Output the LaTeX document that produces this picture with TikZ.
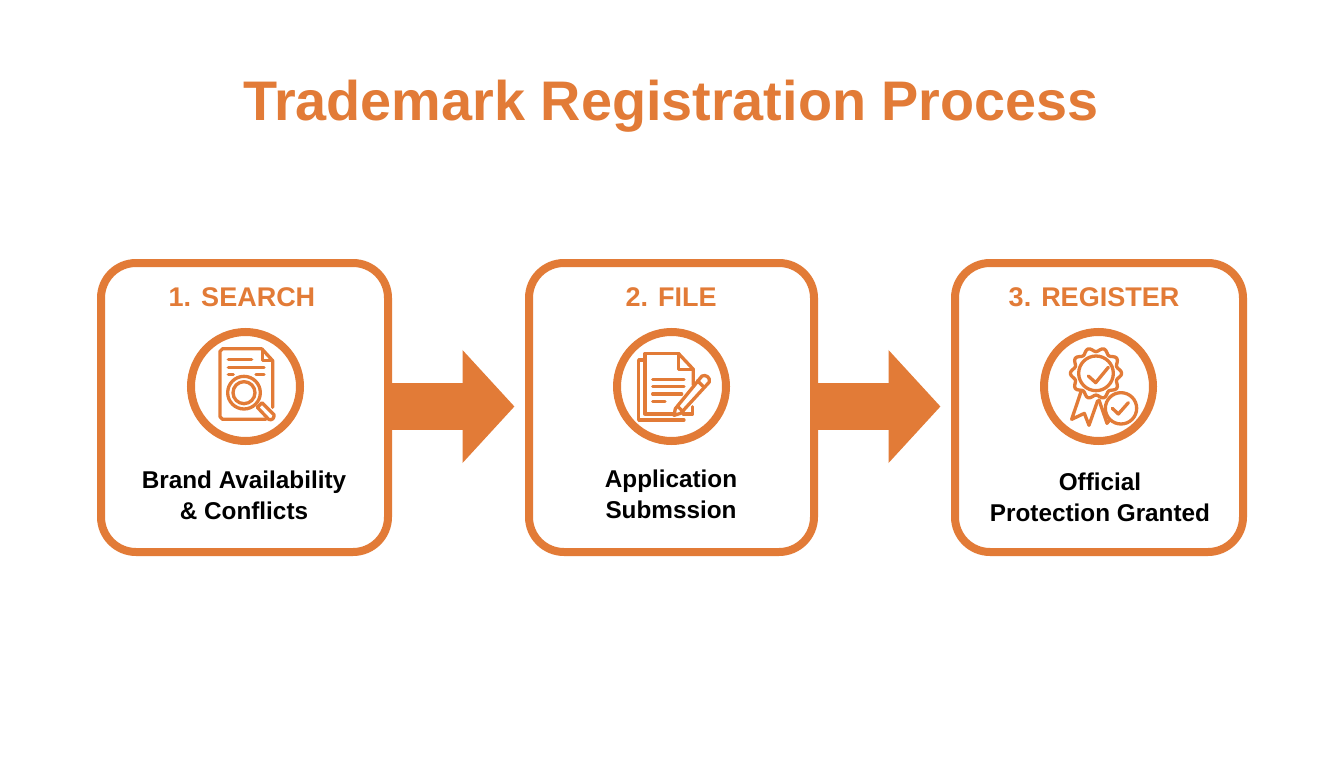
\documentclass[tikz,border=0pt]{standalone}
\usepackage{fontspec}
\setmainfont{Liberation Sans}
\usetikzlibrary{arrows.meta}
\definecolor{brandor}{HTML}{E27B37}
\tikzset{
  stepbox/.style={draw=brandor,line width=8pt,rounded corners=35pt,fill=white,minimum height=289pt,inner sep=0pt},
  iconring/.style={draw=brandor,line width=8pt,circle,minimum size=109pt,inner sep=0pt,fill=white},
  heading/.style={text=brandor,font=\bfseries\fontsize{27}{32}\selectfont,inner sep=0pt},
  caption/.style={text=black,font=\bfseries\fontsize{24.3}{31}\selectfont,align=center,inner sep=0pt},
  bigarrow/.style={draw=brandor,line width=47pt,-{Triangle[length=52pt,width=110pt]}},
  iconline/.style={draw=brandor,line width=3.3pt,line join=round,line cap=round},
  zoomed/.style={x=0.33333pt,y=-0.33333pt},
}
\begin{document}
\begin{tikzpicture}[x=1pt,y=-1pt]
\useasboundingbox (0,0) rectangle (1344,768);
\fill[white] (0,0) rectangle (1344,768);
\node[text=brandor,font=\bfseries\fontsize{55.8}{60}\selectfont,inner sep=0pt] (title) at (671,106.5) {Trademark Registration Process};

\node[stepbox,minimum width=287pt] (box1) at (244.5,407.5) {};
\node[stepbox,minimum width=285pt] (box2) at (671.5,407.5) {};
\node[stepbox,minimum width=288pt] (box3) at (1099,407.5) {};

\coordinate (tip1) at (514.5,406.5);
\coordinate (tip2) at (940.5,406.5);
\draw[bigarrow] (box1.east |- tip1) -- (tip1);
\draw[bigarrow] (box2.east |- tip2) -- (tip2);

\node[heading] (h1) at (242,297.5) {1. SEARCH};
\node[heading] (h2) at (671,297.5) {2. FILE};
\node[heading] (h3) at (1094,297.5) {3. REGISTER};

\node[iconring] (ring1) at (245.5,386.5) {};
\node[iconring] (ring2) at (671.5,386.5) {};
\node[iconring] (ring3) at (1098.5,386.5) {};

\node[caption] (c1) at (244,495) {Brand Availability\\\& Conflicts};
\node[caption] (c2) at (671,494.5) {Application\\Submssion};
\node[caption] (c3) at (1100,497) {Official\\Protection Granted};

% search icon
\begin{scope}[shift={(170,320)},zoomed]
\draw[iconline] (275,86) -- (158,86) -- (150,94) -- (150,290) -- (158,298) -- (288,298);
\draw[iconline] (275,86) -- (308,122) -- (308,262);
\draw[iconline] (278,92) -- (278,122) -- (306,122);
\draw[iconline] (175,118) -- (245,118);
\draw[iconline] (175,142) -- (282,142);
\draw[iconline] (175,164) -- (190,164);
\draw[iconline] (258,164) -- (282,164);
\draw[iconline,fill=white] (222,218) circle[radius=49];
\draw[iconline] (222,218) circle[radius=33];
\draw[iconline,fill=white] (262,262) -- (276,248) -- (312,284) .. controls (314,296) and (304,302) .. (296,298) -- cycle;
\end{scope}

% document and pen icon
\begin{scope}[shift={(600,320)},zoomed]
\draw[iconline] (135,120) -- (116,120) -- (116,300) -- (252,300);
\draw[iconline] (235,100) -- (135,100) -- (135,282) -- (225,282);
\draw[iconline] (235,100) -- (280,148) -- (280,195);
\draw[iconline] (235,104) -- (235,148) -- (278,148);
\draw[iconline] (278,260) -- (278,282) -- (250,282);
\draw[iconline] (158,178) -- (252,178);
\draw[iconline] (158,200) -- (252,200);
\draw[iconline] (158,222) -- (245,222);
\draw[iconline] (158,244) -- (195,244);
\draw[iconline,fill=white] (226,266) -- (222,286) -- (242,280) -- (328,186) .. controls (332,174) and (318,162) .. (306,168) -- cycle;
\draw[iconline] (232,258) -- (250,276);
\draw[iconline] (292,182) -- (312,202);
\end{scope}

% award icon
\begin{scope}[shift={(1025,320)},zoomed]
\draw[iconline,fill=white] (168,215) -- (140,298) -- (178,280) -- (192,316) -- (218,242);
\draw[iconline,fill=white] (222,240) -- (246,310) -- (262,290);
\draw[iconline,fill=white,smooth cycle,samples=80,domain=0:355.5] plot ({213+(71+6*cos(10*\x))*cos(\x)},{160+(71+6*cos(10*\x))*sin(\x)});
\draw[iconline] (213,160) circle[radius=52];
\draw[iconline] (190,168) -- (212,188) -- (250,142);
\draw[iconline,fill=white] (288,265) circle[radius=47];
\draw[iconline] (262,265) -- (280,282) -- (310,248);
\end{scope}
\end{tikzpicture}
\end{document}
